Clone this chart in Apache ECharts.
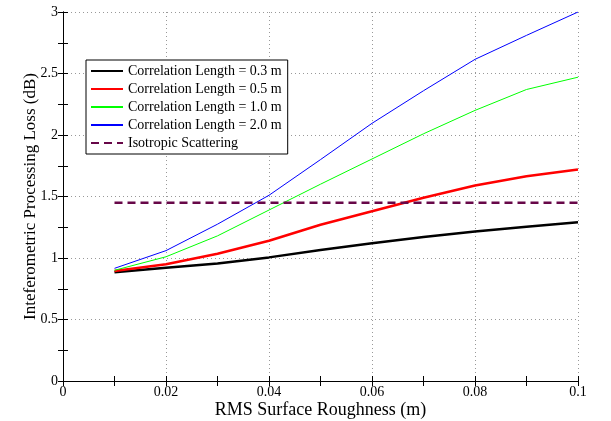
<!DOCTYPE html>
<html>
<head>
<meta charset="utf-8">
<script src="https://cdn.jsdelivr.net/npm/echarts@6/dist/echarts.min.js"></script>
<style>
  html, body { margin: 0; padding: 0; background: #fff; }
  #ch1 { width: 611px; height: 421px; }
</style>
</head>
<body>
<div id="ch1"></div>
<script>
var roughness = [0.01, 0.02, 0.03, 0.04, 0.05, 0.06, 0.07, 0.08, 0.09, 0.1];
var corr03 = [0.884, 0.92, 0.955, 1.005, 1.065, 1.12, 1.17, 1.215, 1.255, 1.29];
var corr05 = [0.894, 0.95, 1.035, 1.14, 1.27, 1.38, 1.49, 1.59, 1.665, 1.72];
var corr10 = [0.90, 1.01, 1.18, 1.39, 1.60, 1.805, 2.01, 2.20, 2.37, 2.47];
var corr20 = [0.916, 1.06, 1.275, 1.51, 1.80, 2.095, 2.36, 2.615, 2.81, 3.0];
var isoX = [0.01, 0.1];
var isoLoss = [1.45, 1.45];
var names = ['Correlation Length = 0.3 m', 'Correlation Length = 0.5 m',
  'Correlation Length = 1.0 m', 'Correlation Length = 2.0 m', 'Isotropic Scattering'];

function pairs(xs, ys) {
  return xs.map(function (x, i) { return [x, ys[i]]; });
}

var font = 'Liberation Serif';
var gridLine = { show: true, lineStyle: { color: '#999', type: [1, 3], width: 1 } };

window.onload = function () {
  var ch1 = echarts.init(document.getElementById('ch1'));
  var op1 = {
    animation: false,
    grid: { left: 63, right: 33, top: 12, bottom: 40, outerBoundsMode: 'none' },
    legend: {
      orient: 'vertical',
      left: 86,
      top: 60,
      padding: [4, 6, 4, 4],
      borderColor: '#000',
      borderWidth: 1,
      backgroundColor: '#fff',
      itemWidth: 32,
      itemHeight: 14,
      itemGap: 4,
      itemStyle: { opacity: 0 },
      textStyle: { fontFamily: font, fontSize: 14, color: '#000' },
      data: names
    },
    xAxis: [{
      type: 'value', min: 0, max: 0.1, interval: 0.02,
      name: 'RMS Surface Roughness (m)', nameLocation: 'middle', nameGap: 20,
      nameMoveOverlap: false,
      nameTextStyle: { fontFamily: font, fontSize: 18, color: '#000' },
      axisLine: { lineStyle: { color: '#000' } },
      axisTick: { inside: true, length: 5, lineStyle: { color: '#000' } },
      minorTick: { show: true, splitNumber: 2, length: 5, lineStyle: { color: '#000' } },
      axisLabel: { fontFamily: font, fontSize: 14, color: '#000', margin: 4 },
      splitLine: gridLine
    }, {
      type: 'value', min: 0, max: 0.1, interval: 0.02, position: 'top',
      axisLine: { lineStyle: { color: '#000' } },
      axisTick: { inside: true, length: 5, lineStyle: { color: '#000' } },
      minorTick: { show: true, splitNumber: 2, length: 5, lineStyle: { color: '#000' } },
      axisLabel: { show: false },
      splitLine: { show: false }
    }],
    yAxis: [{
      type: 'value', min: 0, max: 3, interval: 0.5,
      name: 'Inteferometric Processing Loss (dB)', nameLocation: 'middle', nameGap: 24,
      nameMoveOverlap: false,
      nameTextStyle: { fontFamily: font, fontSize: 17, color: '#000' },
      axisLine: { show: true, lineStyle: { color: '#000' } },
      axisTick: { show: true, inside: true, length: 5, lineStyle: { color: '#000' } },
      minorTick: { show: true, splitNumber: 2, length: 5, lineStyle: { color: '#000' } },
      axisLabel: { fontFamily: font, fontSize: 14, color: '#000', margin: 5 },
      splitLine: gridLine
    }, {
      type: 'value', min: 0, max: 3, interval: 0.5, position: 'right',
      axisLine: { show: true, lineStyle: { color: '#000' } },
      axisTick: { show: true, inside: true, length: 5, lineStyle: { color: '#000' } },
      minorTick: { show: true, splitNumber: 2, length: 5, lineStyle: { color: '#000' } },
      axisLabel: { show: false },
      splitLine: { show: false }
    }],
    series: [{
      name: names[0], type: 'line', symbol: 'none',
      data: pairs(roughness, corr03),
      lineStyle: { color: '#000', width: 2.5 }, itemStyle: { color: '#000' }
    }, {
      name: names[1], type: 'line', symbol: 'none',
      data: pairs(roughness, corr05),
      lineStyle: { color: '#ff0000', width: 2.5 }, itemStyle: { color: '#ff0000' }
    }, {
      name: names[2], type: 'line', symbol: 'none',
      data: pairs(roughness, corr10),
      lineStyle: { color: '#00ff00', width: 1 }, itemStyle: { color: '#00ff00' }
    }, {
      name: names[3], type: 'line', symbol: 'none',
      data: pairs(roughness, corr20),
      lineStyle: { color: '#0000ff', width: 1 }, itemStyle: { color: '#0000ff' }
    }, {
      name: names[4], type: 'line', symbol: 'none',
      data: pairs(isoX, isoLoss),
      lineStyle: { color: '#670748', width: 2.5, type: [8, 5] }, itemStyle: { color: '#670748' }
    }]
  };
  ch1.setOption(op1);
};
</script>
</body>
</html>
